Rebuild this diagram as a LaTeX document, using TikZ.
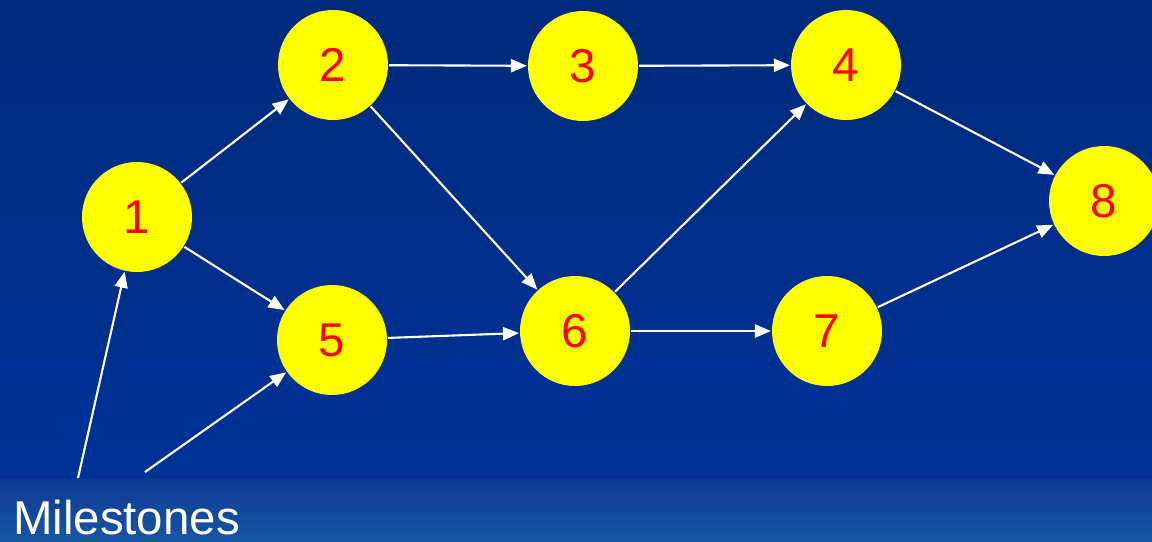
\documentclass[tikz,border=0pt]{standalone}
\usepackage{fontspec}
\setmainfont{Liberation Sans}
\usetikzlibrary{arrows.meta}

\definecolor{navytop}{RGB}{0,42,122}
\definecolor{navymid}{RGB}{0,50,152}
\definecolor{bandtop}{RGB}{12,58,148}
\definecolor{bandbot}{RGB}{24,86,162}
\definecolor{milered}{RGB}{255,0,0}
\definecolor{mileyellow}{RGB}{255,255,0}

\begin{document}
\begin{tikzpicture}[
            > = {Triangle[length=0.32cm,width=0.26cm]}, % arrow head style
            line width = 1.2pt, % line style
            white,
            mile/.style = {shape=circle,fill=mileyellow,minimum size=2.2cm,inner sep=0pt,
                           text=milered,font=\fontsize{27}{30}\selectfont}
        ]
% background
\useasboundingbox (0,0) rectangle (23.04,-10.82);
\shade[top color=navytop,bottom color=navymid,draw=none] (0,0) rectangle (23.04,-9.58);
\shade[top color=bandtop,bottom color=bandbot,draw=none] (0,-9.58) rectangle (23.04,-10.82);

\node[mile] (N1) at (2.74,-4.34) {1};
\node[mile] (N2) at (6.66,-1.30) {2};
\node[mile] (N3) at (11.66,-1.32) {3};
\node[mile] (N4) at (16.92,-1.30) {4};
\node[mile] (N5) at (6.64,-6.80) {5};
\node[mile] (N6) at (11.50,-6.62) {6};
\node[mile] (N7) at (16.54,-6.62) {7};
\node[mile] (N8) at (22.08,-4.02) {8};

\node[anchor=base west,text=white,font=\fontsize{27}{30}\selectfont,inner sep=0pt]
    (ms) at (0.24,-10.68) {Milestones};
\coordinate (msA) at (1.56,-9.56);
\coordinate (msB) at (2.90,-9.44);

 \path [->] (N1) edge (N2);
 \path [->] (N1) edge (N5);
 \path [->] (N2) edge (N3);
 \path [->] (N2) edge (N6);
 \path [->] (N3) edge (N4);
 \path [->] (N5) edge (N6);
 \path [->] (N6) edge (N4);
 \path [->] (N6) edge (N7);
 \path [->] (N4) edge (N8);
 \path [->] (N7) edge (N8);

 \path [->] (msA) edge (N1);
 \path [->] (msB) edge (N5);
\end{tikzpicture}
\end{document}
